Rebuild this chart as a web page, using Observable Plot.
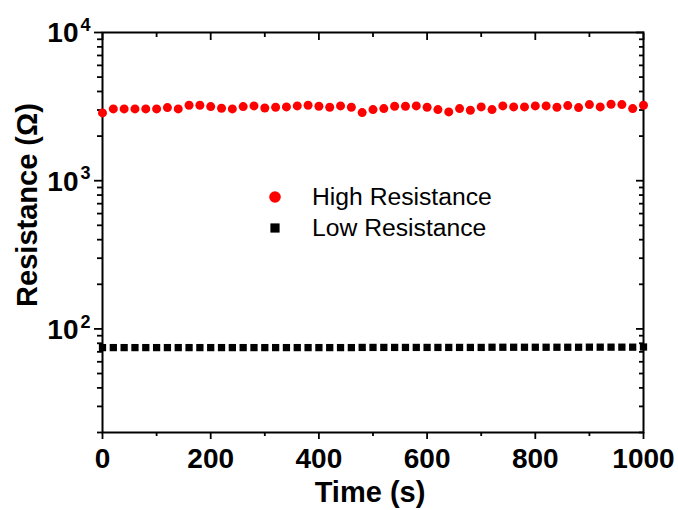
<!DOCTYPE html>
<html><head><meta charset="utf-8">
<script src="https://cdn.jsdelivr.net/npm/d3@7"></script>
<script src="https://cdn.jsdelivr.net/npm/@observablehq/plot@0.6"></script>
<style>
body{margin:0;background:#fff;}
#wrap{position:relative;width:678px;height:510px;overflow:hidden;font-family:"Liberation Sans",Arial,sans-serif;}
#legend{position:absolute;left:268px;top:181px;font-size:24.7px;color:#000;}
.row{display:flex;align-items:center;height:31px;white-space:nowrap;}
.row svg{width:14px;height:14px;margin-right:30px;flex:none;}
</style></head><body><div id="wrap"><div id="legend"></div></div>
<script>
const times = [0,20,40,60,80,100,120,140,160,180,200,220,240,260,280,300,320,340,360,380,400,420,440,460,480,500,520,540,560,580,600,620,640,660,680,700,720,740,760,780,800,820,840,860,880,900,920,940,960,980,1000];
const highResistance = [2866,3051,3051,3051,3051,3051,3115,3051,3228,3228,3162,3083,3051,3162,3195,3097,3130,3146,3195,3228,3179,3130,3195,3130,2881,3019,3066,3179,3179,3195,3130,3019,2911,3066,2987,3146,3019,3195,3146,3146,3195,3195,3130,3212,3115,3262,3146,3280,3262,3066,3228];
const lowResistance = [74.8,74.8,74.8,74.8,74.8,74.8,74.8,74.8,74.8,74.8,74.8,74.8,74.8,74.8,74.8,74.8,74.8,74.8,74.8,74.8,74.8,74.8,74.8,74.8,75,75,75,75,75,75,75,75,75,75,75,75,75.2,75.2,75.2,75.2,75.2,75.2,75.2,75.2,75.2,75.3,75.3,75.3,75.3,75.3,75.5];
const seriesNames = ["High Resistance", "Low Resistance"];
const seriesColors = ["#ff0000", "#000000"];
const xMajorTicks = [0,200,400,600,800,1000];
const xMinorTicks = [100,300,500,700,900];
const yMajorTicks = [100,1000,10000];
const yMinorTicks = [20,30,40,50,60,70,80,90,200,300,400,500,600,700,800,900,2000,3000,4000,5000,6000,7000,8000,9000];
const yTickBase = "10";
const yTickExponents = ["2","3","4"];
const xTitle = "Time (s)";
const yTitle = "Resistance (Ω)";

const data = times.map((t, i) => ({t, high: highResistance[i], low: lowResistance[i]}));
const blank = () => "";
const tw = 1.8;

const plot = Plot.plot({
  width: 678, height: 510,
  marginLeft: 102, marginRight: 35, marginTop: 32, marginBottom: 78,
  style: {fontFamily: "Liberation Sans, Arial, sans-serif", background: "white", color: "black", overflow: "visible"},
  x: {domain: [0, 1000], label: null},
  y: {type: "log", domain: [20, 10000], label: null},
  marks: [
    Plot.axisX({ticks: xMajorTicks, tickSize: 7, tickPadding: 9, tickFormat: d => String(d), fontSize: 28, fontWeight: "bold", strokeWidth: tw, label: null}),
    Plot.axisX({ticks: xMinorTicks, tickSize: 4, tickFormat: blank, strokeWidth: tw, label: null}),
    Plot.axisX({anchor: "top", ticks: xMajorTicks, tickSize: 7, dy: 7, tickFormat: blank, strokeWidth: tw, label: null}),
    Plot.axisX({anchor: "top", ticks: xMinorTicks, tickSize: 4, dy: 4, tickFormat: blank, strokeWidth: tw, label: null}),
    Plot.axisY({ticks: yMajorTicks, tickSize: 8, tickFormat: blank, strokeWidth: tw, label: null}),
    Plot.axisY({ticks: yMinorTicks, tickSize: 5, tickFormat: blank, strokeWidth: tw, label: null}),
    Plot.axisY({anchor: "right", ticks: yMajorTicks, tickSize: 8, dx: -8, tickFormat: blank, strokeWidth: tw, label: null}),
    Plot.axisY({anchor: "right", ticks: yMinorTicks, tickSize: 5, dx: -5, tickFormat: blank, strokeWidth: tw, label: null}),
    Plot.text(yMajorTicks, {y: d => d, frameAnchor: "left", text: () => yTickBase, textAnchor: "end", dx: -24, dy: 1, fontSize: 28, fontWeight: "bold"}),
    Plot.text(yMajorTicks, {y: d => d, frameAnchor: "left", text: (d, i) => yTickExponents[i], textAnchor: "start", dx: -22, dy: -7, fontSize: 18, fontWeight: "bold"}),
    Plot.frame({stroke: "black", strokeWidth: 2}),
    Plot.dot(data, {x: "t", y: "low", symbol: "square", r: 4.1, fill: seriesColors[1], stroke: "none"}),
    Plot.dot(data, {x: "t", y: "high", symbol: "circle", r: 4.5, fill: seriesColors[0], stroke: "none"})
  ]
});

const svg = d3.select(plot);
svg.append("text")
  .attr("transform", "translate(37,205) rotate(-90)")
  .attr("text-anchor", "middle")
  .attr("font-size", 29).attr("font-weight", "bold").attr("fill", "black")
  .text(yTitle);
svg.append("text")
  .attr("x", 370).attr("y", 502)
  .attr("text-anchor", "middle")
  .attr("font-size", 29).attr("font-weight", "bold").attr("fill", "black")
  .text(xTitle);

const wrap = document.getElementById("wrap");
wrap.insertBefore(plot, wrap.firstChild);

const legend = d3.select("#legend");
seriesNames.forEach((name, i) => {
  const row = legend.append("div").attr("class", "row");
  const s = row.append("svg").attr("viewBox", "-7 -7 14 14");
  if (i === 0) s.append("circle").attr("r", 5.8).attr("fill", seriesColors[i]);
  else s.append("rect").attr("x", -4.6).attr("y", -4.6).attr("width", 9.2).attr("height", 9.2).attr("fill", seriesColors[i]);
  row.append("span").text(name);
});
</script></body></html>
